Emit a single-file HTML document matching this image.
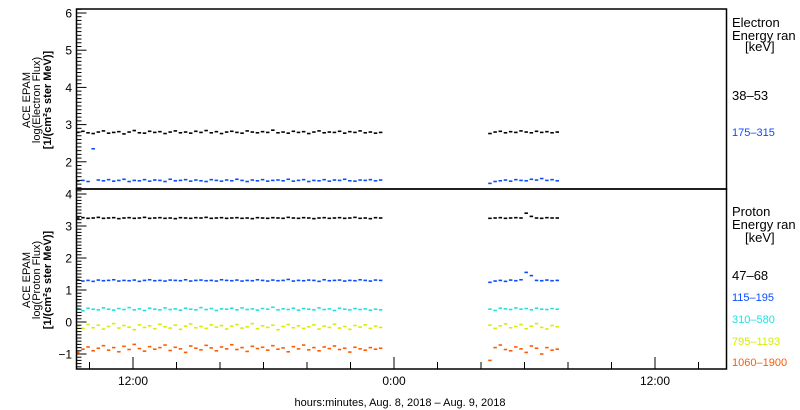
<!DOCTYPE html>
<html><head><meta charset="utf-8">
<style>
html,body{margin:0;padding:0;background:#fff;}
svg{display:block;font-family:"Liberation Sans",sans-serif;}
</style></head>
<body>
<svg id="chart" width="800" height="410" viewBox="0 0 800 410" xmlns="http://www.w3.org/2000/svg">
  <rect width="800" height="410" fill="#fff"/>
  <g id="marks"></g>
  <g id="axes" stroke="#000" stroke-width="1.5" fill="none">
    <rect x="76.5" y="9" width="650" height="180"/>
    <rect x="76.5" y="189" width="650" height="180"/>
  </g>
  <g id="ticks" stroke="#000" stroke-width="1"></g>
  <g id="labels" font-size="12" fill="#000"></g>
  <g font-size="11" text-anchor="middle" transform="translate(38,100) rotate(-90)">
    <text y="-8">ACE EPAM</text><text y="2">log(Electron Flux)</text><text y="13" font-weight="bold">[1/(cm²s ster MeV)]</text>
  </g>
  <g font-size="11" text-anchor="middle" transform="translate(38,280) rotate(-90)">
    <text y="-8">ACE EPAM</text><text y="2">log(Proton Flux)</text><text y="13" font-weight="bold">[1/(cm²s ster MeV)]</text>
  </g>
  <g font-size="13">
    <text x="732" y="27">Electron</text><text x="732" y="40">Energy ran</text><text x="745" y="51">[keV]</text>
    <text x="732" y="100" fill="#000">38–53</text>
    <text x="732" y="136" font-size="11" fill="#0a4cff">175–315</text>
  </g>
  <g font-size="13">
    <text x="732" y="216">Proton</text><text x="732" y="229">Energy ran</text><text x="745" y="242">[keV]</text>
    <text x="732" y="280">47–68</text>
    <text x="732" y="301" font-size="11" fill="#0a4cff">115–195</text>
    <text x="732" y="323" font-size="11" fill="#22e0e0">310–580</text>
    <text x="732" y="345" font-size="11" fill="#d6ee00">795–1193</text>
    <text x="732" y="366" font-size="11" fill="#ff5a00">1060–1900</text>
  </g>
  <text x="400" y="406" font-size="11" text-anchor="middle">hours:minutes, Aug.  8, 2018 – Aug.  9, 2018</text>
</svg>
<script>
// time grid (hours since Aug 8 00:00)
const seg1Start = 9.45, seg1Step = 0.236, seg1Count = 60;
const seg2Start = 28.4, seg2Step = 0.238, seg2Count = 14;
const xTickHours = [10,12,14,16,18,20,22,24,26,28,30,32,34,36,38];
const xTickLabels = {12:"12:00",24:"0:00",36:"12:00"};
const elecTicks = [2,3,4,5,6];
const protTicks = [-1,0,1,2,3,4];

const elec3853 = [2.79,2.82,2.78,2.76,2.80,2.83,2.77,2.79,2.81,2.75,2.80,2.84,2.78,2.77,2.82,2.79,2.81,2.76,2.80,2.83,2.78,2.80,2.77,2.82,2.79,2.84,2.78,2.81,2.76,2.80,2.82,2.79,2.77,2.83,2.80,2.78,2.81,2.79,2.85,2.78,2.80,2.77,2.82,2.79,2.81,2.76,2.80,2.83,2.78,2.80,2.79,2.82,2.77,2.81,2.79,2.83,2.78,2.80,2.77,2.79,
  2.76,2.80,2.82,2.78,2.81,2.79,2.83,2.80,2.78,2.82,2.79,2.81,2.78,2.80];
const elec175315 = [1.48,1.50,1.47,2.35,1.51,1.49,1.52,1.48,1.50,1.53,1.47,1.50,1.49,1.52,1.48,1.51,1.50,1.47,1.53,1.49,1.50,1.52,1.48,1.51,1.49,1.47,1.52,1.50,1.48,1.51,1.49,1.53,1.50,1.47,1.51,1.49,1.52,1.48,1.50,1.51,1.49,1.53,1.48,1.50,1.52,1.47,1.50,1.49,1.52,1.48,1.51,1.50,1.53,1.49,1.48,1.51,1.50,1.52,1.49,1.51,
  1.42,1.47,1.49,1.51,1.48,1.52,1.50,1.49,1.53,1.51,1.55,1.50,1.52,1.49];
const prot4768 = [3.25,3.26,3.24,3.25,3.27,3.24,3.25,3.26,3.23,3.25,3.26,3.24,3.25,3.27,3.24,3.25,3.26,3.24,3.25,3.23,3.26,3.25,3.24,3.26,3.25,3.27,3.24,3.25,3.26,3.24,3.25,3.26,3.24,3.25,3.23,3.26,3.25,3.24,3.26,3.25,3.24,3.27,3.25,3.24,3.26,3.25,3.23,3.25,3.26,3.24,3.25,3.26,3.24,3.25,3.27,3.24,3.25,3.23,3.26,3.25,
  3.24,3.25,3.26,3.24,3.25,3.26,3.25,3.40,3.30,3.25,3.24,3.26,3.25,3.25];
const prot115195 = [1.32,1.28,1.30,1.27,1.31,1.29,1.30,1.32,1.28,1.30,1.29,1.31,1.27,1.30,1.32,1.29,1.30,1.28,1.31,1.30,1.29,1.32,1.28,1.30,1.31,1.29,1.30,1.28,1.32,1.30,1.29,1.31,1.28,1.30,1.29,1.32,1.30,1.28,1.31,1.29,1.30,1.33,1.28,1.30,1.29,1.31,1.30,1.27,1.32,1.29,1.30,1.31,1.28,1.30,1.29,1.32,1.30,1.28,1.31,1.30,
  1.24,1.28,1.30,1.27,1.31,1.29,1.32,1.55,1.45,1.30,1.29,1.31,1.29,1.30];
const prot310580 = [0.42,0.35,0.43,0.40,0.38,0.44,0.40,0.37,0.42,0.39,0.45,0.38,0.41,0.36,0.43,0.40,0.38,0.44,0.39,0.41,0.37,0.43,0.40,0.38,0.45,0.39,0.42,0.36,0.41,0.40,0.43,0.38,0.44,0.39,0.41,0.37,0.42,0.40,0.46,0.38,0.41,0.39,0.43,0.37,0.42,0.40,0.38,0.44,0.39,0.41,0.36,0.43,0.40,0.38,0.42,0.39,0.41,0.37,0.40,0.38,
  0.40,0.36,0.43,0.41,0.39,0.44,0.40,0.42,0.38,0.43,0.40,0.39,0.42,0.40];
const prot7951193 = [-0.12,-0.20,-0.08,-0.18,-0.10,-0.22,-0.14,-0.05,-0.19,-0.11,-0.16,-0.24,-0.09,-0.17,-0.12,-0.21,-0.07,-0.15,-0.19,-0.10,-0.23,-0.13,-0.06,-0.18,-0.14,-0.20,-0.09,-0.16,-0.11,-0.22,-0.13,-0.08,-0.19,-0.15,-0.05,-0.21,-0.12,-0.17,-0.10,-0.24,-0.14,-0.08,-0.18,-0.12,-0.20,-0.15,-0.09,-0.22,-0.13,-0.17,-0.07,-0.19,-0.14,-0.23,-0.11,-0.16,-0.09,-0.20,-0.13,-0.17,
  -0.10,-0.20,-0.12,-0.06,-0.18,-0.14,-0.08,-0.21,-0.13,-0.05,-0.17,-0.22,-0.11,-0.15];
const prot10601900 = [-0.95,-0.85,-0.78,-0.90,-0.82,-0.74,-0.88,-0.80,-0.93,-0.76,-0.86,-0.70,-0.83,-0.91,-0.77,-0.85,-0.80,-0.72,-0.89,-0.79,-0.84,-0.95,-0.75,-0.82,-0.87,-0.73,-0.81,-0.90,-0.78,-0.84,-0.71,-0.86,-0.80,-0.92,-0.76,-0.83,-0.79,-0.88,-0.74,-0.85,-0.81,-0.93,-0.77,-0.84,-0.72,-0.87,-0.80,-0.90,-0.78,-0.83,-0.75,-0.86,-0.82,-0.94,-0.79,-0.84,-0.88,-0.80,-0.85,-0.82,
  -1.20,-0.80,-0.72,-0.86,-0.90,-0.78,-0.84,-0.95,-0.75,-0.82,-1.00,-0.80,-0.88,-0.85];

const NS = "http://www.w3.org/2000/svg";
const xScale = h => 133 + (h - 12) * 21.75;
const yElec = v => 13 + (6 - v) * 37.2;
const yProt = v => 194 + (4 - v) * 32;
const hours = [];
for (let i = 0; i < seg1Count; i++) hours.push(seg1Start + i * seg1Step);
for (let i = 0; i < seg2Count; i++) hours.push(seg2Start + i * seg2Step);

const marks = document.getElementById('marks');
function series(vals, yf, color, name, top, bot) {
  const g = document.createElementNS(NS, 'g');
  
  
  g.setAttribute('fill', color);
  vals.forEach((v, i) => {
    const y = yf(v);
    if (y < top || y > bot) return;
    const r = document.createElementNS(NS, 'rect');
    
    
    r.setAttribute('x', xScale(hours[i]) - 1.5);
    r.setAttribute('y', y - 0.8);
    r.setAttribute('width', 3.5);
    r.setAttribute('height', 1.6);
    g.appendChild(r);
  });
  marks.appendChild(g);
}
series(elec3853, yElec, '#000', 'electron-38-53-series', 9, 189);
series(elec175315, yElec, '#0a4cff', 'electron-175-315-series', 9, 189);
series(prot4768, yProt, '#000', 'proton-47-68-series', 189, 369);
series(prot115195, yProt, '#0a4cff', 'proton-115-195-series', 189, 369);
series(prot310580, yProt, '#22e0e0', 'proton-310-580-series', 189, 369);
series(prot7951193, yProt, '#d6ee00', 'proton-795-1193-series', 189, 369);
series(prot10601900, yProt, '#ff5a00', 'proton-1060-1900-series', 189, 369);

const ticks = document.getElementById('ticks');
const labels = document.getElementById('labels');
function line(x1, y1, x2, y2, name) {
  const l = document.createElementNS(NS, 'line');
  
  
  l.setAttribute('x1', x1); l.setAttribute('y1', y1);
  l.setAttribute('x2', x2); l.setAttribute('y2', y2);
  ticks.appendChild(l);
}
function label(x, y, txt, anchor, name) {
  const t = document.createElementNS(NS, 'text');
  
  
  t.setAttribute('x', x); t.setAttribute('y', y);
  t.setAttribute('text-anchor', anchor);
  t.textContent = txt;
  labels.appendChild(t);
}
// electron y minor ticks
for (let k = 13; k <= 61; k++) {
  const v = k / 10, y = yElec(v);
  if (y < 9 || y > 189) continue;
  line(76.5, y, 76.5 + (k % 10 === 0 ? 10 : 5), y, 'electron-y-tick');
}
elecTicks.forEach(v => label(72, yElec(v) + 4.5, String(v), 'end', 'electron-y-tick-label'));
for (let k = -15; k <= 41; k++) {
  const v = k / 10, y = yProt(v);
  if (y < 189 || y > 369) continue;
  line(76.5, y, 76.5 + (k % 10 === 0 ? 10 : 5), y, 'proton-y-tick');
}
protTicks.forEach(v => label(72, yProt(v) + 4.5, v < 0 ? '−' + Math.abs(v) : String(v), 'end', 'proton-y-tick-label'));
xTickHours.forEach(h => {
  const x = xScale(h);
  if (x < 76.5 || x > 726.5) return;
  const major = xTickLabels[h] !== undefined;
  line(x, 369, x, 369 - (major ? 12 : 7), 'x-tick');
  if (major) label(x, 385, xTickLabels[h], 'middle', 'x-tick-label');
});
</script>
</body></html>
